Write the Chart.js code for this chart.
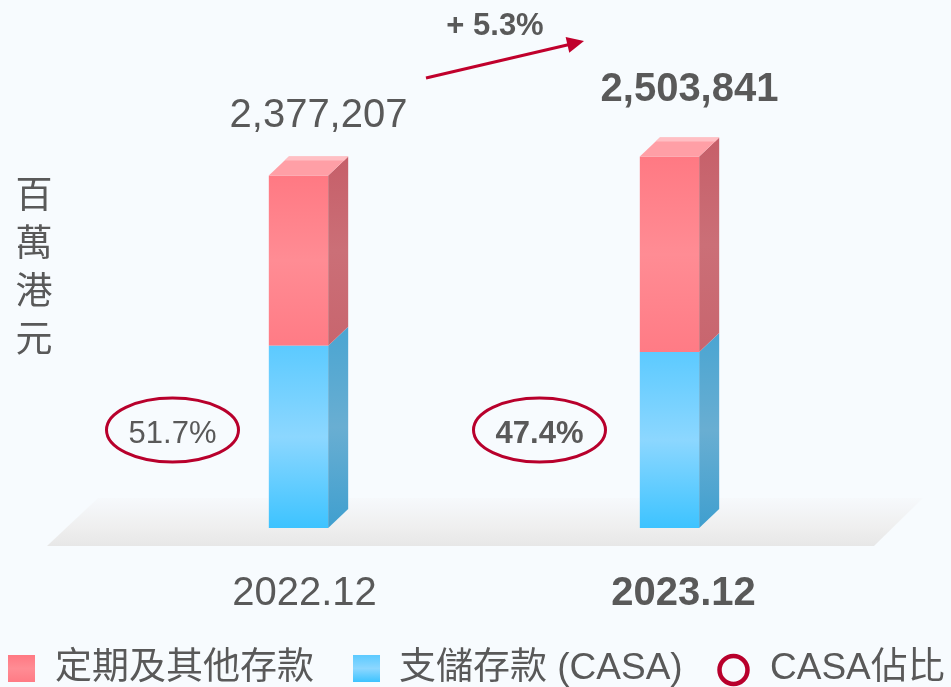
<!DOCTYPE html>
<html>
<head>
<meta charset="utf-8">
<script src="https://cdn.jsdelivr.net/npm/chart.js@4.4.1/dist/chart.umd.min.js"></script>
<style>
    body { margin: 0; background: #f7fbfe; }
    #wrap { width: 951px; height: 687px; }
</style>
</head>
<body>
<div id="wrap"><canvas id="chartCanvas" width="951" height="687"></canvas></div>
<script>
// Datos (millones HKD)
const periods = ['2022.12', '2023.12'];
const casaDeposits = [1229016, 1186821];
const otherDeposits = [1148191, 1317020];
const totalLabels = ['2,377,207', '2,503,841'];
const casaRatioLabels = ['51.7%', '47.4%'];
const growthLabel = '+ 5.3%';
const legendLabels = ['定期及其他存款', '支儲存款 (CASA)', 'CASA佔比'];
const yTitleChars = ['百', '萬', '港', '元'];

const FONT = "'Liberation Sans', Arial, 'Noto Sans CJK TC', sans-serif";
const GREY = '#595959';
const DARK_RED = '#b8002c';
const DEPTH_X = 20;
const DEPTH_Y = 19;

const redFront = ['#ff7983', '#ff8c94', '#ff7b85'];
const blueFront = ['#5ccaff', '#8cd7ff', '#3dc3ff'];
const redSide = ['#c65f69', '#cb6f77', '#c8656e'];
const blueSide = ['#4aa5d2', '#69aed2', '#3f9fcf'];

function gradient(ctx2d, top, bottom, stops) {
    const g = ctx2d.createLinearGradient(0, top, 0, bottom);
    g.addColorStop(0, stops[0]);
    g.addColorStop(0.5, stops[1]);
    g.addColorStop(1, stops[2]);
    return g;
}

// Cara frontal con degradado
function frontColor(context, stops) {
    const chart = context.chart;
    const yScale = chart.scales.y;
    if (!yScale || context.dataIndex === undefined) return stops[0];
    let start = 0;
    for (let i = 0; i < context.datasetIndex; i++) start += chart.data.datasets[i].data[context.dataIndex];
    const end = start + chart.data.datasets[context.datasetIndex].data[context.dataIndex];
    const top = yScale.getPixelForValue(end);
    const bottom = yScale.getPixelForValue(start);
    if (!isFinite(top) || !isFinite(bottom)) return stops[0];
    return gradient(chart.ctx, top, bottom, stops);
}

// Suelo gris
const floorPlugin = {
    id: 'floor',
    beforeDatasetsDraw(chart) {
        const { ctx, chartArea } = chart;
        const top = chartArea.bottom - 30;
        const bottom = chartArea.bottom + 18;
        ctx.save();
        const g = ctx.createLinearGradient(0, top, 0, bottom);
        g.addColorStop(0, '#f6f9fc');
        g.addColorStop(0.6, '#efefef');
        g.addColorStop(1, '#e7e7e7');
        ctx.fillStyle = g;
        ctx.beginPath();
        ctx.moveTo(chartArea.left - 15, top);
        ctx.lineTo(chartArea.right + 68, top);
        ctx.lineTo(chartArea.right + 19, bottom);
        ctx.lineTo(chartArea.left - 66, bottom);
        ctx.closePath();
        ctx.fill();
        ctx.restore();
    }
};

// Caras laterales y superior (3D)
const cubePlugin = {
    id: 'cube',
    afterDatasetsDraw(chart) {
        const ctx = chart.ctx;
        const sides = [blueSide, redSide];
        ctx.save();
        chart.data.datasets.forEach((ds, di) => {
            chart.getDatasetMeta(di).data.forEach((bar) => {
                const right = bar.x + bar.width / 2;
                const top = bar.y;
                const base = bar.base;
                ctx.fillStyle = gradient(ctx, top - DEPTH_Y, base, sides[di]);
                ctx.beginPath();
                ctx.moveTo(right, top);
                ctx.lineTo(right + DEPTH_X, top - DEPTH_Y);
                ctx.lineTo(right + DEPTH_X, base - DEPTH_Y);
                ctx.lineTo(right, base);
                ctx.closePath();
                ctx.fill();
            });
        });
        // tapa superior
        const lastMeta = chart.getDatasetMeta(chart.data.datasets.length - 1);
        lastMeta.data.forEach((bar) => {
            const left = bar.x - bar.width / 2;
            const right = bar.x + bar.width / 2;
            const top = bar.y;
            ctx.fillStyle = '#ff9fa6';
            ctx.beginPath();
            ctx.moveTo(left, top);
            ctx.lineTo(right, top);
            ctx.lineTo(right + DEPTH_X, top - DEPTH_Y);
            ctx.lineTo(left + DEPTH_X, top - DEPTH_Y);
            ctx.closePath();
            ctx.fill();
            ctx.fillStyle = '#ffbfc4';
            ctx.beginPath();
            ctx.moveTo(left + DEPTH_X - 4, top - DEPTH_Y + 4);
            ctx.lineTo(right + DEPTH_X - 4, top - DEPTH_Y + 4);
            ctx.lineTo(right + DEPTH_X, top - DEPTH_Y);
            ctx.lineTo(left + DEPTH_X, top - DEPTH_Y);
            ctx.closePath();
            ctx.fill();
        });
        ctx.restore();
    }
};

// Textos, elipses, flecha y leyenda
const annotationPlugin = {
    id: 'annotations',
    afterDraw(chart) {
        const ctx = chart.ctx;
        const xScale = chart.scales.x;
        const yScale = chart.scales.y;
        ctx.save();
        ctx.fillStyle = GREY;
        ctx.textAlign = 'center';
        ctx.textBaseline = 'alphabetic';

        // Totales encima de cada barra
        const labelShift = [[20, 48], [20, 56]];
        periods.forEach((p, i) => {
            const x = xScale.getPixelForValue(i);
            const y = yScale.getPixelForValue(casaDeposits[i] + otherDeposits[i]);
            ctx.font = (i === 1 ? 'bold ' : '') + '40px ' + FONT;
            ctx.fillText(totalLabels[i], x + labelShift[i][0], y - labelShift[i][1]);
        });

        // Etiquetas del eje x
        const xShift = [6, 14];
        periods.forEach((p, i) => {
            const x = xScale.getPixelForValue(i);
            ctx.font = (i === 1 ? 'bold ' : '') + '40px ' + FONT;
            ctx.fillText(p, x + xShift[i], chart.chartArea.bottom + 77);
        });

        // Elipses CASA
        const ellShift = [-126, -130];
        periods.forEach((p, i) => {
            const x = xScale.getPixelForValue(i) + ellShift[i];
            const y = chart.chartArea.bottom - 98;
            ctx.strokeStyle = DARK_RED;
            ctx.lineWidth = 3;
            ctx.beginPath();
            ctx.ellipse(x, y, 66, 32, 0, 0, Math.PI * 2);
            ctx.stroke();
            ctx.font = (i === 1 ? 'bold ' : '') + '31px ' + FONT;
            ctx.textBaseline = 'middle';
            ctx.fillText(casaRatioLabels[i], x, y + 4);
            ctx.textBaseline = 'alphabetic';
        });

        // Flecha de crecimiento
        const x0 = 426, y0 = 78, x1 = 584, y1 = 41;
        const ang = Math.atan2(y1 - y0, x1 - x0);
        ctx.strokeStyle = '#c0002c';
        ctx.fillStyle = '#c0002c';
        ctx.lineWidth = 3;
        ctx.beginPath();
        ctx.moveTo(x0, y0);
        ctx.lineTo(x1 - 14 * Math.cos(ang), y1 - 14 * Math.sin(ang));
        ctx.stroke();
        ctx.beginPath();
        ctx.moveTo(x1, y1);
        ctx.lineTo(x1 - 17 * Math.cos(ang) + 8 * Math.sin(ang), y1 - 17 * Math.sin(ang) - 8 * Math.cos(ang));
        ctx.lineTo(x1 - 17 * Math.cos(ang) - 8 * Math.sin(ang), y1 - 17 * Math.sin(ang) + 8 * Math.cos(ang));
        ctx.closePath();
        ctx.fill();
        ctx.fillStyle = GREY;
        ctx.font = 'bold 31px ' + FONT;
        ctx.fillText(growthLabel, 495, 35);

        // Titulo eje y (vertical)
        ctx.font = '37px ' + FONT;
        ctx.textBaseline = 'middle';
        yTitleChars.forEach((c, i) => {
            ctx.fillText(c, 34, 198 + i * 48);
        });

        // Leyenda
        const ly = 669;
        ctx.textAlign = 'left';
        ctx.font = '37px ' + FONT;
        ctx.fillStyle = gradient(ctx, 655, 682, redFront);
        ctx.fillRect(8, 655, 27, 27);
        ctx.fillStyle = GREY;
        ctx.fillText(legendLabels[0], 55, ly);
        ctx.fillStyle = gradient(ctx, 655, 682, blueFront);
        ctx.fillRect(353, 655, 27, 27);
        ctx.fillStyle = GREY;
        ctx.fillText(legendLabels[1], 399, ly);
        ctx.strokeStyle = DARK_RED;
        ctx.lineWidth = 4.5;
        ctx.beginPath();
        ctx.arc(733.5, 670, 14, 0, Math.PI * 2);
        ctx.stroke();
        ctx.fillText(legendLabels[2], 770, ly);
        ctx.restore();
    }
};

const chartCanvas = document.getElementById('chartCanvas');

new Chart(chartCanvas, {
    type: 'bar',
    data: {
        labels: periods,
        datasets: [{
            label: legendLabels[1],
            data: casaDeposits,
            backgroundColor: (c) => frontColor(c, blueFront)
        }, {
            label: legendLabels[0],
            data: otherDeposits,
            backgroundColor: (c) => frontColor(c, redFront)
        }]
    },
    options: {
        responsive: false,
        animation: false,
        layout: { padding: { left: 113, right: 96, top: 83, bottom: 159 } },
        datasets: { bar: { barPercentage: 0.16, categoryPercentage: 1 } },
        plugins: { legend: { display: false }, tooltip: { enabled: false } },
        scales: {
            x: { stacked: true, display: false },
            y: { stacked: true, display: false, min: 0, max: 3000000 }
        }
    },
    plugins: [floorPlugin, cubePlugin, annotationPlugin]
});
</script>
</body>
</html>
